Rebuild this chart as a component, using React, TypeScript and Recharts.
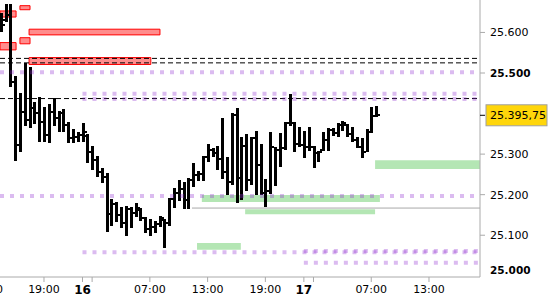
import React from 'react';
import { ComposedChart, Bar, XAxis, YAxis, ReferenceArea, ReferenceLine } from 'recharts';

// OHLC values of each 30-minute bar
const opens = [25630,25630,25643,25478,25322,25404,25384,25414,25401,25379,25347,25404,25389,25401,25372,25340,25342,25347,25345,25305,25285,25256,25243,25152,25177,25150,25130,25164,25155,25162,25142,25115,25120,25127,25138,25130,25189,25204,25214,25187,25236,25248,25251,25293,25310,25303,25288,25256,25231,25396,25241,25320,25236,25340,25273,25204,25209,25317,25310,25315,25377,25377,25325,25322,25317,25317,25303,25310,25335,25359,25352,25372,25372,25349,25335,25317,25305,25354,25394];
const highs = [25648,25670,25670,25492,25451,25525,25515,25428,25441,25416,25423,25438,25406,25411,25379,25362,25354,25377,25349,25320,25295,25266,25253,25189,25182,25169,25172,25169,25179,25167,25145,25140,25135,25147,25140,25192,25216,25236,25231,25241,25278,25258,25295,25325,25315,25320,25389,25293,25401,25414,25342,25349,25342,25357,25325,25238,25354,25317,25352,25379,25448,25379,25367,25357,25367,25320,25308,25354,25364,25364,25377,25382,25374,25367,25342,25340,25362,25416,25418];
const lows = [25601,25626,25465,25283,25305,25369,25364,25374,25330,25330,25327,25369,25354,25354,25327,25327,25330,25330,25278,25261,25243,25229,25108,25123,25132,25118,25098,25118,25145,25135,25105,25098,25105,25120,25068,25123,25167,25184,25164,25164,25219,25234,25234,25280,25293,25261,25238,25199,25224,25179,25187,25209,25224,25199,25199,25169,25201,25221,25268,25310,25369,25305,25317,25290,25308,25266,25280,25308,25308,25345,25342,25357,25342,25330,25315,25290,25305,25352,25391];
const closes = [25618,25643,25478,25322,25404,25384,25414,25401,25379,25347,25404,25389,25401,25372,25340,25342,25347,25354,25305,25285,25256,25243,25152,25177,25150,25130,25164,25155,25167,25142,25115,25120,25127,25142,25130,25189,25204,25214,25187,25236,25248,25251,25293,25310,25303,25288,25256,25231,25396,25241,25320,25236,25340,25273,25204,25209,25317,25310,25315,25377,25377,25325,25322,25317,25317,25303,25305,25335,25359,25352,25372,25377,25349,25335,25317,25305,25354,25394,25395.75];

const lastPrice = 25395.75;

// x axis (bar index) ticks and labels
const xTickValues = [-2.8, 9, 17, 19, 31, 43, 55, 63, 65, 77, 89];
const xTickLabels = ['13:00', '19:00', '16', '', '07:00', '13:00', '19:00', '17', '', '07:00', '13:00'];
const xDayLabels = ['16', '17'];

// y axis ticks
const yTickValues = [25000, 25100, 25200, 25300, lastPrice, 25500, 25600];
const yBoldValues = [25000, 25500];

const xMin = -0.14;
const xMax = 99.6;
const yMin = 24997;
const yMax = 25680;

// supply (red) and demand (green) zones: [fromIndex, toIndex, lowPrice, highPrice]
const redZones = [
  [xMin, 3.2, 25638, 25653],
  [4, 6.1, 25656, 25666],
  [5.9, 33.1, 25594, 25608],
  [xMin, 3.2, 25557, 25575],
  [4, 6.1, 25572, 25587],
  [5.9, 31.2, 25521, 25538],
];
const greenZones = [
  [40.8, 49.9, 25064, 25081],
  [41.8, 78.8, 25182, 25199],
  [50.8, 77.8, 25152, 25164],
  [77.8, xMax, 25263, 25285],
];

// levels: [fromIndex, price]
const dottedLevels = [
  [xMin, 25502],
  [17, 25449],
  [17, 25436],
  [xMin, 25197],
  [17, 25058],
  [63, 25061],
  [63, 25032],
];
const dashedLevels = [
  [xMin, 25536],
  [xMin, 25525],
  [xMin, 25437],
];
const grayLevels = [[39.75, 25167]];

const data = closes.map((c, i) => ({
  i,
  open: opens[i],
  high: highs[i],
  low: lows[i],
  close: c,
  range: [lows[i], highs[i]],
}));

const FONT = 'DejaVu Sans';

const fmtTick = (v: number) => (v / 1000).toFixed(3);
const fmtPrice = (v: number) => {
  const th = Math.floor(v / 1000);
  const rest = Math.floor(v % 1000);
  const frac = Math.round((v % 1) * 100);
  return `${th}.${String(rest).padStart(3, '0')},${String(frac).padStart(2, '0')}`;
};

const OhlcShape = (props: any) => {
  const { x, y, width, height, payload } = props;
  if (!payload || x == null || y == null) return null;
  const top = Math.min(y, y + height);
  const h = Math.abs(height);
  const cx = Math.round(x + width / 2);
  const span = payload.high - payload.low || 1;
  const py = (v: number) => top + ((payload.high - v) / span) * h;
  return (
    <g fill="#000" shapeRendering="crispEdges">
      <rect x={cx - 1} y={top} width={3} height={Math.max(h, 1)} />
      <rect x={cx - 3} y={Math.round(py(payload.open)) - 1} width={2} height={2} />
      <rect x={cx + 2} y={Math.round(py(payload.close)) - 1} width={2} height={2} />
    </g>
  );
};

const YTick = (props: any) => {
  const { x, y, payload } = props;
  const v = payload.value;
  const ax = x - 10;
  if (v === lastPrice) {
    return (
      <g>
        <line x1={ax} x2={ax + 5} y1={y} y2={y} stroke="#000" />
        <rect x={x - 4} y={y - 10.5} width={61} height={21} fill="#ffd60a" stroke="#a0a0a0" />
        <text x={x} y={y} dy="0.36em" fontFamily={FONT} fontSize={11} fill="#000">
          {fmtPrice(v)}
        </text>
      </g>
    );
  }
  const bold = yBoldValues.includes(v);
  const ty = v === 25000 ? y - 6 : y;
  return (
    <g>
      {v !== 25000 && <line x1={ax} x2={ax + 5} y1={y} y2={y} stroke="#aaa" />}
      <text
        x={x}
        y={ty}
        dy="0.36em"
        fontFamily={FONT}
        fontSize={bold ? 10.5 : 11}
        fontWeight={bold ? 'bold' : 'normal'}
        fill="#000"
      >
        {fmtTick(v)}
      </text>
    </g>
  );
};

const XTick = (props: any) => {
  const { x, y, payload } = props;
  const idx = xTickValues.indexOf(payload.value);
  const label = idx >= 0 ? xTickLabels[idx] : '';
  if (!label) return null;
  const bold = xDayLabels.includes(label);
  return (
    <text
      x={x}
      y={y}
      dy="0.71em"
      textAnchor="middle"
      fontFamily={FONT}
      fontSize={bold ? 12 : 11}
      fontWeight={bold ? 'bold' : 'normal'}
      fill="#000"
    >
      {label}
    </text>
  );
};

export default function App() {
  return (
    <div style={{ position: 'absolute', left: 0, top: 0, width: 550, height: 300, overflow: 'hidden', background: '#fff' }}>
      <ComposedChart width={550} height={300} data={data} margin={{ top: 0, right: 0, bottom: 0, left: 0 }}>
        <XAxis
          dataKey="i"
          type="number"
          domain={[xMin, xMax]}
          allowDataOverflow
          ticks={xTickValues}
          interval={0}
          height={23}
          tickSize={5}
          tickMargin={3}
          stroke="#aaa"
          tick={<XTick />}
        />
        <YAxis
          orientation="right"
          type="number"
          domain={[yMin, yMax]}
          allowDataOverflow
          ticks={yTickValues}
          interval={0}
          width={70}
          tickSize={5}
          tickMargin={5}
          tickLine={false}
          stroke="#aaa"
          tick={<YTick />}
        />
        {redZones.map((z, k) => (
          <ReferenceArea
            key={'r' + k}
            x1={z[0]}
            x2={z[1]}
            y1={z[2]}
            y2={z[3]}
            fill="#ff8c8c"
            fillOpacity={1}
            stroke="#ff0000"
            strokeWidth={1}
            ifOverflow="visible"
          />
        ))}
        {greenZones.map((z, k) => (
          <ReferenceArea
            key={'g' + k}
            x1={z[0]}
            x2={z[1]}
            y1={z[2]}
            y2={z[3]}
            fill="#b4e6b4"
            fillOpacity={1}
            stroke="none"
            ifOverflow="visible"
          />
        ))}
        {grayLevels.map((l, k) => (
          <ReferenceLine
            key={'gr' + k}
            segment={[{ x: l[0], y: l[1] }, { x: xMax, y: l[1] }]}
            stroke="#a8a8a8"
            strokeWidth={1}
            ifOverflow="visible"
          />
        ))}
        <Bar dataKey="range" barSize={3} isAnimationActive={false} shape={<OhlcShape />} />
        {dashedLevels.map((l, k) => (
          <ReferenceLine
            key={'d' + k}
            segment={[{ x: l[0], y: l[1] }, { x: xMax, y: l[1] }]}
            stroke="#000"
            strokeWidth={1}
            strokeDasharray="5 3"
            ifOverflow="visible"
          />
        ))}
        {dottedLevels.map((l, k) => (
          <ReferenceLine
            key={'p' + k}
            segment={[{ x: l[0], y: l[1] }, { x: xMax, y: l[1] }]}
            stroke="#9130d1"
            strokeOpacity={0.33}
            strokeWidth={4}
            strokeDasharray="4 6"
            ifOverflow="visible"
          />
        ))}
      </ComposedChart>
    </div>
  );
}
